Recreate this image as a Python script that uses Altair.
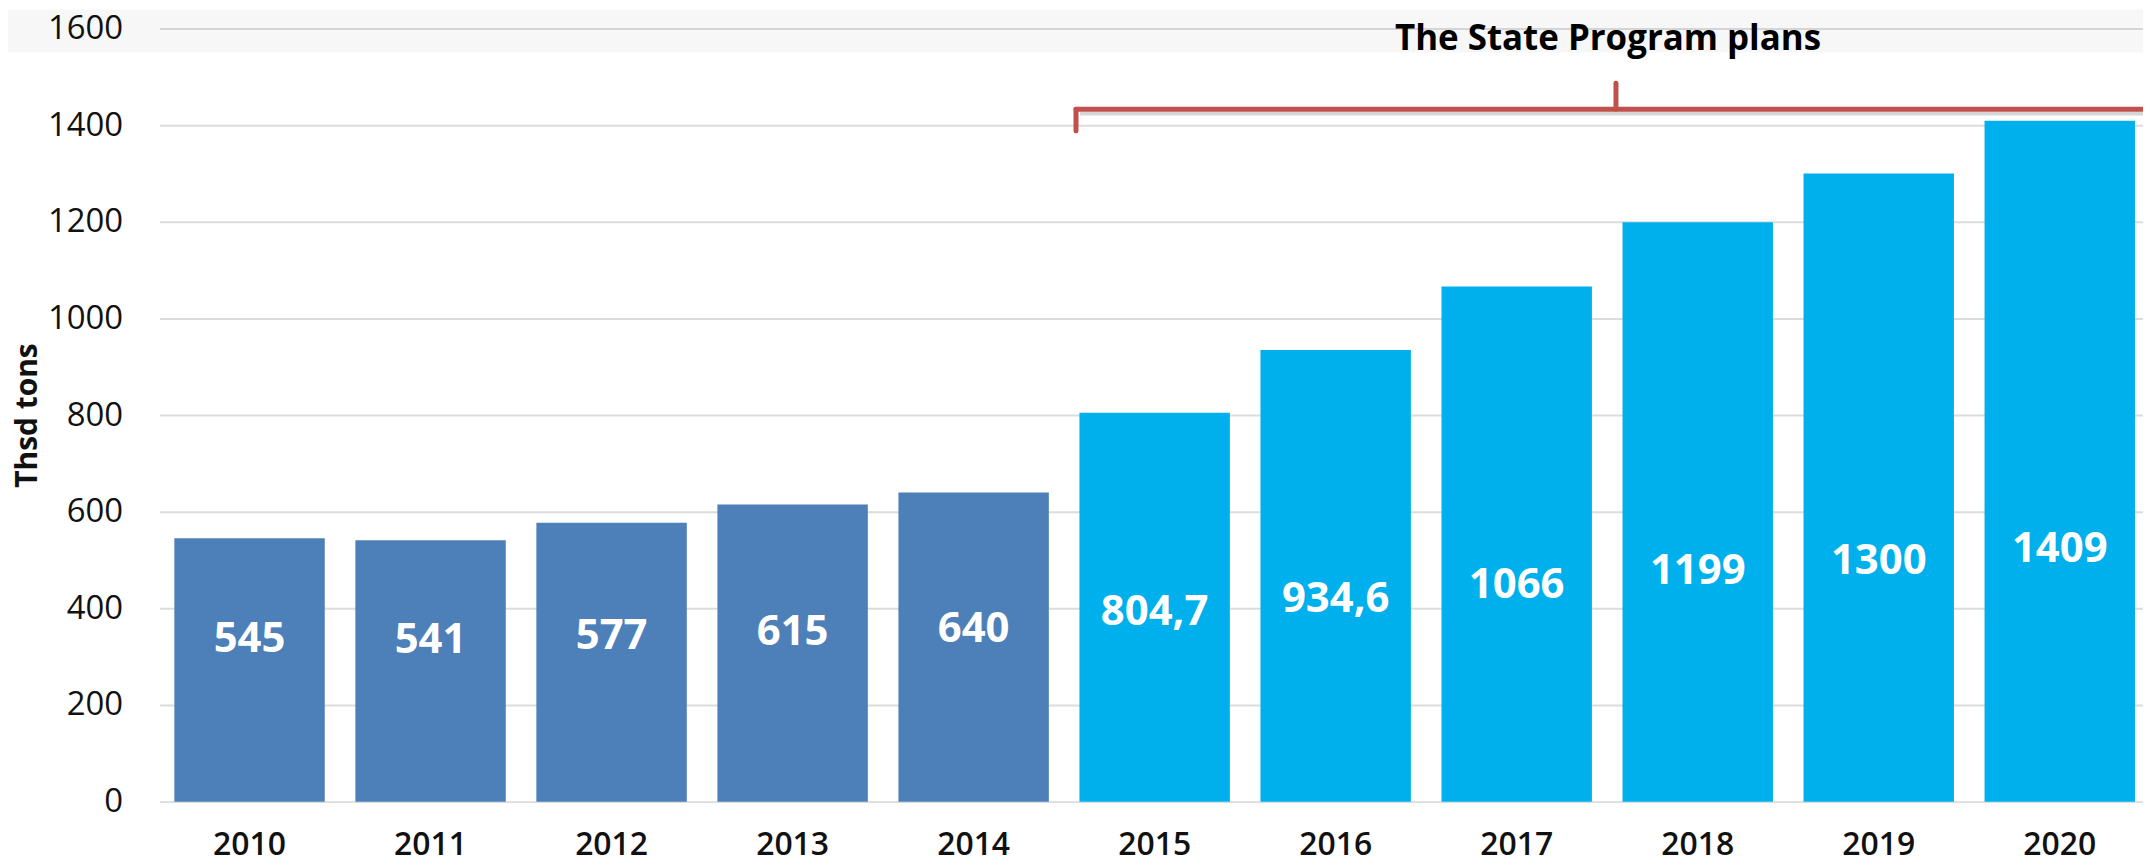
import altair as alt
import pandas as pd

years = ["2010", "2011", "2012", "2013", "2014", "2015", "2016", "2017", "2018", "2019", "2020"]
values = [545, 541, 577, 615, 640, 804.7, 934.6, 1066, 1199, 1300, 1409]
labels = ["545", "541", "577", "615", "640", "804,7", "934,6", "1066", "1199", "1300", "1409"]
groups = ["Actual"] * 5 + ["Plan"] * 6

df = pd.DataFrame({"year": years, "value": values, "label": labels, "group": groups})

FONT = "Open Sans"

x_enc = alt.X(
    "year:N",
    sort=years,
    title=None,
    scale=alt.Scale(paddingInner=0.169, paddingOuter=0.0633, align=0.65),
    axis=alt.Axis(
        labelFont=FONT, labelFontSize=32, labelFontWeight=600, labelColor="#111111",
        labelAngle=0, labelPadding=28, ticks=False, domain=False, grid=False,
        domainOpacity=0, tickOpacity=0, gridOpacity=0,
    ),
)
y_enc = alt.Y(
    "value:Q",
    title="Thsd tons",
    scale=alt.Scale(domain=[0, 1600], nice=False),
    axis=alt.Axis(
        values=[0, 200, 400, 600, 800, 1000, 1200, 1400, 1600],
        format="d",
        labelFont=FONT, labelFontSize=33, labelColor="#111111", labelPadding=37,
        ticks=False, domain=False, domainOpacity=0, tickOpacity=0,
        gridColor="#dcdcdc", gridWidth=2,
        titleFont=FONT, titleFontSize=30, titleFontWeight="bold", titleColor="#111111",
        titleX=-132, titleY=388, titleBaseline="middle", titleAngle=270,
    ),
)

base = alt.Chart(df)

band = alt.Chart(alt.Data(values=[{}])).mark_rect(color="#000000", opacity=0.03).encode(
    x=alt.value(-152), x2=alt.value(1991), y=alt.value(-19), y2=alt.value(24)
)

bars = base.mark_bar().encode(
    x=x_enc,
    y=y_enc,
    color=alt.Color("group:N", scale=alt.Scale(domain=["Actual", "Plan"], range=["#4d80b8", "#00b0ec"]), legend=None),
)

texts = base.transform_calculate(
    ly="0.215 * datum.value + 219"
).mark_text(
    font=FONT, fontSize=42, fontWeight="bold", color="white", baseline="middle", align="center"
).encode(
    x=alt.X("year:N", sort=years, title=None),
    y=alt.Y("ly:Q", title="Thsd tons"),
    text="label:N",
)

one = alt.Data(values=[{}])
BR = "#c0504d"

shadow = alt.Chart(one).mark_rule(color="#888888", strokeWidth=4, opacity=0.35).encode(
    x=alt.value(924), x2=alt.value(1991), y=alt.datum(1424)
)
br_h = alt.Chart(one).mark_rule(color=BR, strokeWidth=5, strokeCap="round").encode(
    x=alt.value(920), x2=alt.value(1991), y=alt.datum(1433)
)
br_l = alt.Chart(one).mark_rule(color=BR, strokeWidth=5, strokeCap="round").encode(
    x=alt.value(920), y=alt.datum(1433), y2=alt.datum(1388)
)
br_c = alt.Chart(one).mark_rule(color=BR, strokeWidth=5, strokeCap="round").encode(
    x=alt.value(1462), y=alt.datum(1433), y2=alt.datum(1487)
)
title_txt = alt.Chart(one).mark_text(
    font=FONT, fontSize=35, fontWeight="bold", color="#000000", baseline="middle", align="center"
).encode(
    x=alt.value(1454), y=alt.datum(1578), text=alt.value("The State Program plans")
)

chart = alt.layer(band, bars, texts, shadow, br_h, br_l, br_c, title_txt).properties(
    width=1991,
    height=776,
    autosize=alt.AutoSizeParams(type="none"),
    padding={"left": 152, "top": 19, "right": 0, "bottom": 60},
).configure_view(strokeOpacity=0, strokeWidth=0).configure_axis(domain=False).configure_axisX(grid=False)

chart.save("out.html", embed_options={"renderer": "svg", "actions": False})
